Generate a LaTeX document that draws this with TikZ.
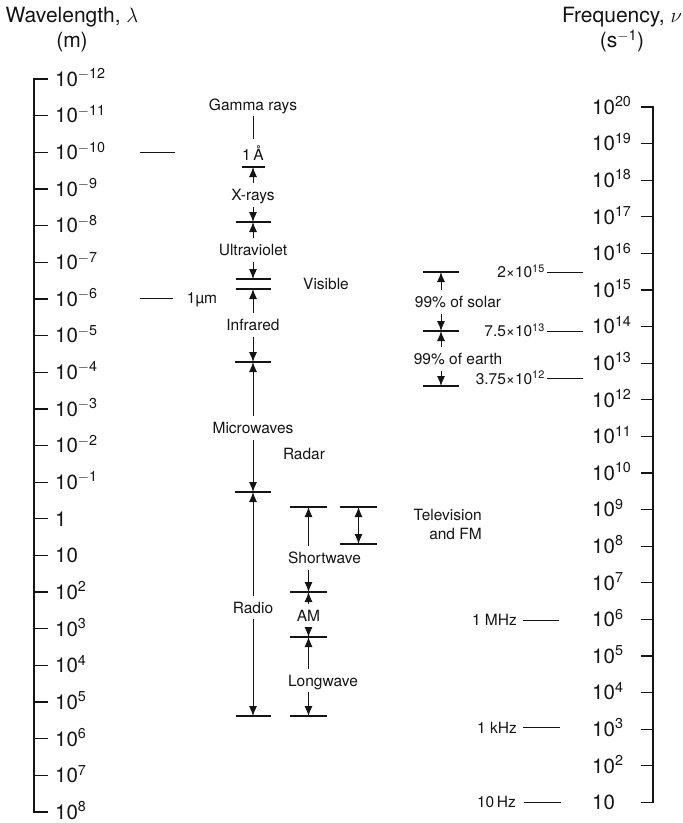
\documentclass[tikz,border=0pt]{standalone}
\usepackage{fontspec}
\setmainfont{TeX Gyre Heros}
\usetikzlibrary{arrows.meta}
\definecolor{inkBlack}{RGB}{20,20,20}
\newcommand{\tenpow}[1]{\ifnum#1=0 1\else\ifnum#1=1 10\else 10\textsuperscript{\ifnum#1<0 $-$\number-#1\else#1\fi}\fi\fi}
\tikzset{
  axisnum/.style={font=\fontsize{20.5}{24}\selectfont, anchor=base west, inner sep=0pt, text=inkBlack},
  headtext/.style={font=\fontsize{21}{25}\selectfont, align=center, inner sep=0pt, text=inkBlack},
  bandtext/.style={font=\fontsize{15.5}{19}\selectfont, inner sep=3pt, text=inkBlack},
  band/.style={bandtext, inner xsep=2pt, inner ysep=6pt, text height=11.2pt, text depth=0pt},
  freqtext/.style={bandtext, inner sep=2pt, text height=11.2pt, text depth=0pt, anchor=east},
  axisline/.style={draw=inkBlack, line width=1.3pt},
  bound/.style={draw=inkBlack, line width=1.6pt},
  tickline/.style={draw=inkBlack, line width=1pt},
  thinline/.style={draw=inkBlack, line width=0.6pt},
  flow/.style={-{Latex[length=10pt,width=8pt]}, draw=inkBlack, line width=0.9pt},
  twoflow/.style={{Latex[length=10pt,width=8pt]}-{Latex[length=10pt,width=8pt]}, draw=inkBlack, line width=0.9pt}
}
\begin{document}
\begin{tikzpicture}[x=1pt, y=-1pt]
  \useasboundingbox (0,0) rectangle (683,823);

  % axis titles
  \node[headtext] (wltitle) at (72,30) {Wavelength, $\lambda$\\(m)};
  \node[headtext] (fqtitle) at (622,30) {Frequency, $\nu$\\(s\textsuperscript{$-$1})};

  % wavelength axis
  \foreach \e [evaluate=\e as \yy using 79+(\e+12)*36.65] in {-12,...,8}{
    \coordinate (wt\e) at (34,\yy);
    \draw[axisline] (wt\e) -- ++(14,0);
    \node[axisnum] (wl\e) at (55,\yy+7.3) {\tenpow{\e}};
  }
  \draw[axisline] ([xshift=14pt]wt-12) -- (wt-12) -- (wt8) -- ([xshift=14pt]wt8);

  % frequency axis
  \foreach \n [evaluate=\n as \yy using 107+(20-\n)*36.6] in {20,...,1}{
    \coordinate (ft\n) at (653,\yy);
    \draw[axisline] (ft\n) -- ++(-12,0);
    \node[axisnum] (fl\n) at (592,\yy+7.3) {\tenpow{\n}};
  }
  \draw[axisline] ([xshift=-12pt]ft20) -- (ft20) -- (ft1) -- ([xshift=-12pt]ft1);

  % band limits
  \foreach \n/\x/\y/\w in {b1/253/167/11.5, b2/253/222/17.5, b3/253/279/17.5, b4/253/289/17.5,
      b5/253/362/18, b6/253/492/18, b7/253/716/17.5,
      c1/308.5/507/18.5, c2/308.5/592/18.5, c3/308.5/637/18.5, c4/308.5/716/18.5,
      d1/358.5/507/18.5, d2/358.5/544/18.5,
      e1/441/272/18, e2/441/331/18, e3/441/386/18}{
    \coordinate (\n) at (\x,\y);
    \draw[bound] (\x-\w,\y) -- (\x+\w,\y);
  }

  % main spectrum
  \node[band] (gamma) at (253,104.5) {Gamma rays};
  \node[band, text height=15pt] (ang) at (253,152.5) {1\,Å};
  \node[band] (xray) at (253,195) {X-rays};
  \node[band] (uv) at (253,250) {Ultraviolet};
  \node[band] (vis) at (326,284) {Visible};
  \node[band] (ir) at (253,325) {Infrared};
  \node[band] (mw) at (253,428) {Microwaves};
  \node[band] (radar) at (304,454) {Radar};
  \node[band] (radio) at (253,607.5) {Radio};

  \draw[thinline] (gamma) -- (ang);
  \draw[flow] (xray) -- (b1);
  \draw[flow] (xray) -- (b2);
  \draw[flow] (uv) -- (b2);
  \draw[flow] (uv) -- (b3);
  \draw[flow] (ir) -- (b4);
  \draw[flow] (ir) -- (b5);
  \draw[flow] (mw) -- (b5);
  \draw[flow] (mw) -- (b6);
  \draw[flow] (radio) -- (b6);
  \draw[flow] (radio) -- (b7);

  % radio bands
  \node[band] (sw) at (324.5,558) {Shortwave};
  \node[band] (am) at (308.5,615.5) {AM};
  \node[band] (lw) at (323,680.5) {Longwave};
  \node[bandtext, align=right, anchor=east] (tv) at (485,524.5) {Television\\and FM};

  \draw[flow] (sw.north -| c1) -- (c1);
  \draw[flow] (sw.south -| c2) -- (c2);
  \draw[flow] (am) -- (c2);
  \draw[flow] (am) -- (c3);
  \draw[flow] (lw.north -| c3) -- (c3);
  \draw[flow] (lw.south -| c4) -- (c4);
  \draw[twoflow] (d1) -- (d2);

  % solar and earth radiation
  \node[band] (solar) at (458,302) {99\% of solar};
  \node[band] (earth) at (458,359) {99\% of earth};
  \draw[flow] (solar.north -| e1) -- (e1);
  \draw[flow] (solar.south -| e2) -- (e2);
  \draw[flow] (earth.north -| e2) -- (e2);
  \draw[flow] (earth.south -| e3) -- (e3);

  % wavelength marks
  \coordinate (angtick) at (140,152);
  \coordinate (umtick) at (140,298);
  \node[band] (um) at (202,298) {1µm};
  \draw[tickline] (angtick) -- ++(35,0);
  \draw[tickline, shorten >=12pt] (umtick) -- (um);

  % frequency marks
  \node[freqtext] (f15) at (547,272) {2×10\textsuperscript{15}};
  \node[freqtext] (f13) at (547,331) {7.5×10\textsuperscript{13}};
  \node[freqtext] (f12) at (547,378.5) {3.75×10\textsuperscript{12}};
  \node[freqtext] (mhz) at (519,620) {1 MHz};
  \node[freqtext] (khz) at (519,727.5) {1 kHz};
  \node[freqtext] (hz) at (518,802) {10\,Hz};
  \coordinate (f15end) at (583,272);
  \coordinate (f13end) at (583,331);
  \coordinate (f12end) at (583,378.5);
  \coordinate (mhzend) at (559,620);
  \coordinate (khzend) at (560,727.5);
  \coordinate (hzend) at (561,802);
  \draw[tickline] (f15) -- (f15end);
  \draw[tickline] (f13) -- (f13end);
  \draw[tickline] (f12) -- (f12end);
  \draw[tickline, shorten <=4pt] (mhz) -- (mhzend);
  \draw[tickline, shorten <=4pt] (khz) -- (khzend);
  \draw[tickline, shorten <=6pt] (hz) -- (hzend);
\end{tikzpicture}
\end{document}
